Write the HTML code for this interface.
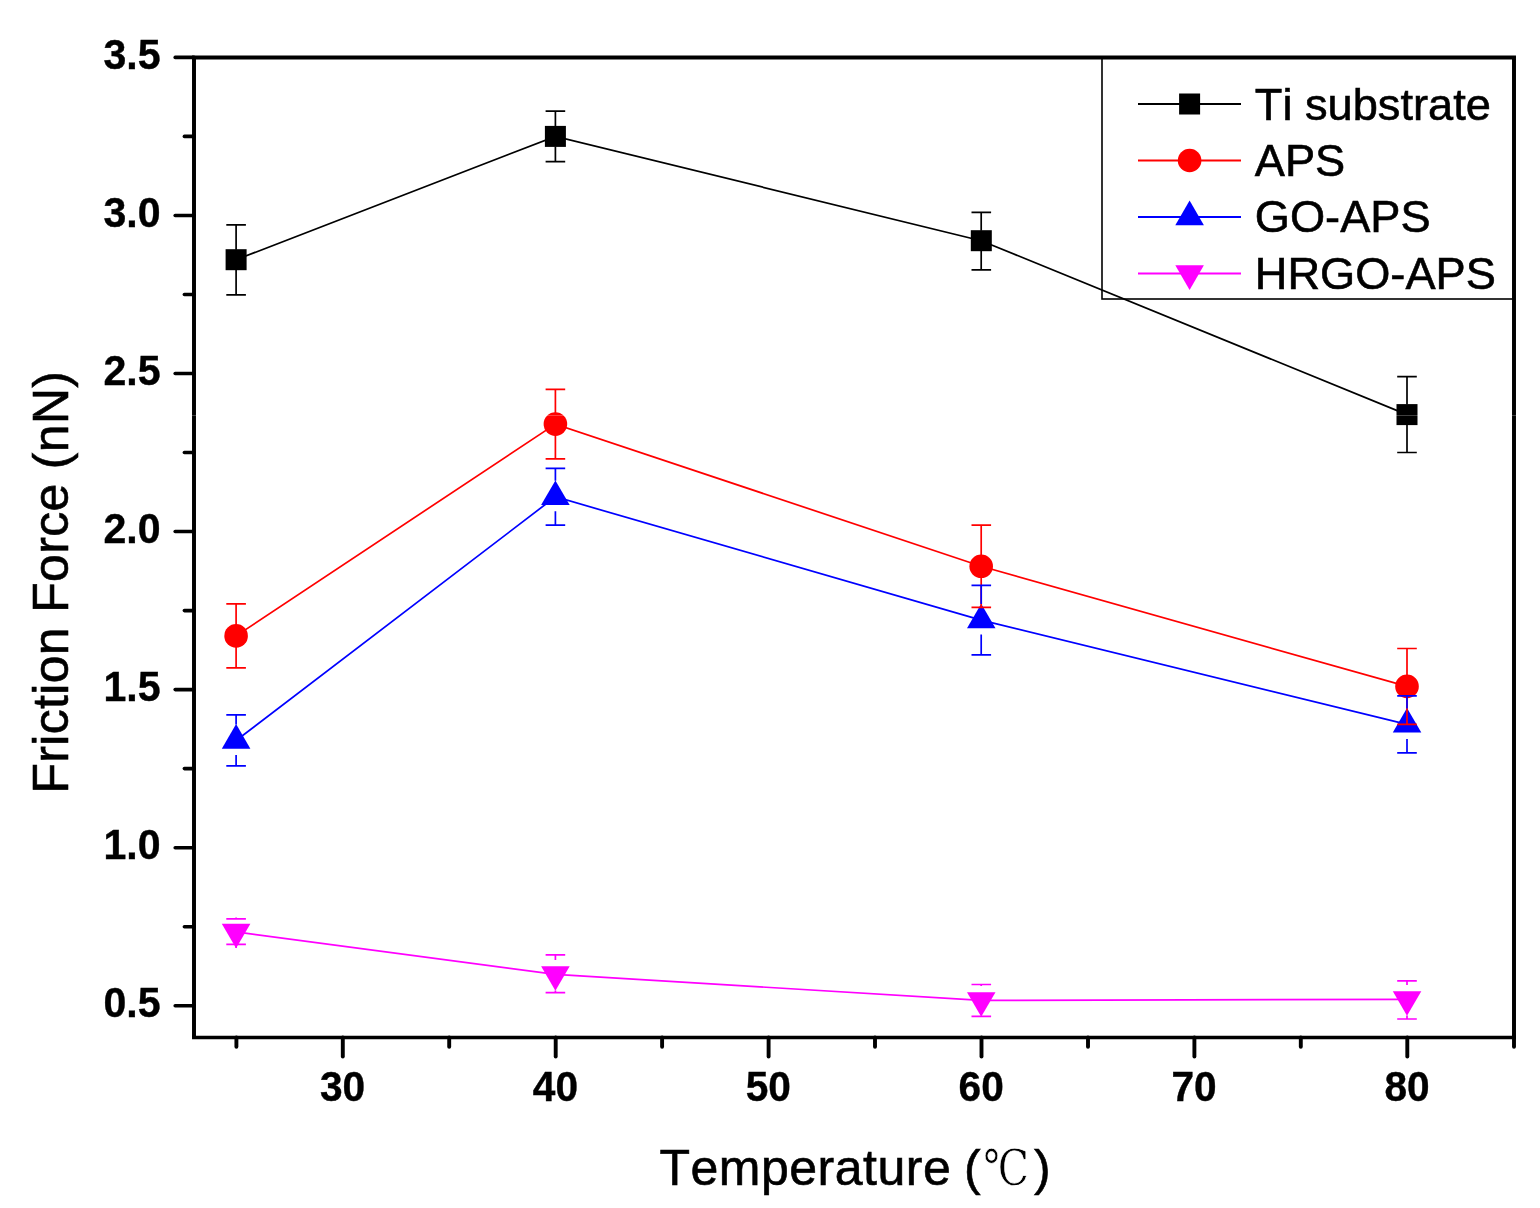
<!DOCTYPE html>
<html><head><meta charset="utf-8"><title>Friction Force vs Temperature</title>
<style>
html,body{margin:0;padding:0;background:#fff;}
body{width:1540px;height:1208px;overflow:hidden;}
svg{display:block;}
text{font-family:"Liberation Sans",Arial,sans-serif;font-kerning:none;fill:#000;stroke:#000;stroke-width:0.6px;}
.tk{font-weight:bold;font-size:43px;stroke-width:0.4px;}
.ti{font-size:50px;}
.lg{font-size:45.2px;}
.cj{font-family:"DejaVu Serif","Noto Serif CJK SC",serif;stroke:#fff;stroke-width:0.7px;}
</style></head><body>
<svg width="1540" height="1208" viewBox="0 0 1540 1208">
<rect width="1540" height="1208" fill="#fff"/>

<polyline points="236.1,259.7 555.4,136.4 981.2,240.7 1407.0,414.6" fill="none" stroke="#000000" stroke-width="1.7"/>
<rect x="225.6" y="249.2" width="21" height="21" fill="#000000"/>
<rect x="544.9" y="125.9" width="21" height="21" fill="#000000"/>
<rect x="970.8" y="230.2" width="21" height="21" fill="#000000"/>
<rect x="1396.5" y="404.1" width="21" height="21" fill="#000000"/>
<polyline points="236.1,635.9 555.4,424.1 981.2,566.3 1407.0,686.4" fill="none" stroke="#ff0000" stroke-width="1.7"/>
<circle cx="236.1" cy="635.9" r="11.8" fill="#ff0000"/>
<circle cx="555.4" cy="424.1" r="11.8" fill="#ff0000"/>
<circle cx="981.2" cy="566.3" r="11.8" fill="#ff0000"/>
<circle cx="1407.0" cy="686.4" r="11.8" fill="#ff0000"/>
<polyline points="236.1,740.5 555.4,496.8 981.2,620.1 1407.0,724.4" fill="none" stroke="#0000ff" stroke-width="1.7"/>
<polygon points="236.1,724.1 250.4,748.7 221.8,748.7" fill="#0000ff"/>
<polygon points="555.4,480.4 569.7,505.0 541.1,505.0" fill="#0000ff"/>
<polygon points="981.2,603.7 995.5,628.3 967.0,628.3" fill="#0000ff"/>
<polygon points="1407.0,708.0 1421.3,732.6 1392.8,732.6" fill="#0000ff"/>
<polyline points="236.1,931.9 555.4,974.4 981.2,1000.4 1407.0,999.4" fill="none" stroke="#ff00ff" stroke-width="1.7"/>
<polygon points="236.1,948.3 250.4,923.7 221.8,923.7" fill="#ff00ff"/>
<polygon points="555.4,990.8 569.7,966.2 541.1,966.2" fill="#ff00ff"/>
<polygon points="981.2,1016.8 995.5,992.2 967.0,992.2" fill="#ff00ff"/>
<polygon points="1407.0,1015.8 1421.3,991.2 1392.8,991.2" fill="#ff00ff"/>
<path d="M236.1 224.9V249.7M236.1 269.7V294.8M226.3 224.9h19.6M226.3 294.8h19.6M555.4 111.1V126.4M555.4 146.4V161.7M545.6 111.1h19.6M545.6 161.7h19.6M981.2 212.3V230.7M981.2 250.7V269.8M971.5 212.3h19.6M971.5 269.8h19.6M1407.0 376.7V404.6M1407.0 424.6V452.5M1397.2 376.7h19.6M1397.2 452.5h19.6" stroke="#000000" stroke-width="1.7" fill="none"/>
<path d="M236.1 603.9V624.9M236.1 646.9V667.8M226.3 603.9h19.6M226.3 667.8h19.6M555.4 389.3V413.1M555.4 435.1V458.8M545.6 389.3h19.6M545.6 458.8h19.6M981.2 525.2V555.3M981.2 577.3V607.4M971.5 525.2h19.6M971.5 607.4h19.6M1407.0 648.5V675.4M1407.0 697.4V724.4M1397.2 648.5h19.6M1397.2 724.4h19.6" stroke="#ff0000" stroke-width="1.7" fill="none"/>
<path d="M236.1 714.9V724.5M236.1 755.0V765.8M226.3 714.9h19.6M226.3 765.8h19.6M555.4 468.3V480.8M555.4 511.3V525.2M545.6 468.3h19.6M545.6 525.2h19.6M981.2 585.3V604.1M981.2 634.6V654.8M971.5 585.3h19.6M971.5 654.8h19.6M1407.0 695.9V708.4M1407.0 738.9V752.8M1397.2 695.9h19.6M1397.2 752.8h19.6" stroke="#0000ff" stroke-width="1.7" fill="none"/>
<path d="M236.1 918.8V917.4M236.1 947.9V944.4M226.3 918.8h19.6M226.3 944.4h19.6M555.4 954.8V959.9M555.4 990.4V992.7M545.6 954.8h19.6M545.6 992.7h19.6M981.2 984.5V985.9M981.2 1016.4V1016.4M971.5 984.5h19.6M971.5 1016.4h19.6M1407.0 980.9V984.9M1407.0 1015.4V1019.0M1397.2 980.9h19.6M1397.2 1019.0h19.6" stroke="#ff00ff" stroke-width="1.7" fill="none"/>
<path d="M194 1037.5V57.45H1514.0V1037.5" stroke="#000" stroke-width="3.95" fill="none" stroke-linejoin="miter"/>
<path d="M192.03 1037.5H1515.97" stroke="#000" stroke-width="3.5" fill="none"/>
<g stroke="#000" stroke-width="3.6" stroke-linecap="round">
<line x1="175.2" x2="194" y1="1005.7" y2="1005.7"/>
<line x1="175.2" x2="194" y1="847.7" y2="847.7"/>
<line x1="175.2" x2="194" y1="689.6" y2="689.6"/>
<line x1="175.2" x2="194" y1="531.5" y2="531.5"/>
<line x1="175.2" x2="194" y1="373.5" y2="373.5"/>
<line x1="175.2" x2="194" y1="215.5" y2="215.5"/>
<line x1="175.2" x2="194" y1="57.4" y2="57.4"/>
<line x1="184.4" x2="194" y1="926.7" y2="926.7"/>
<line x1="184.4" x2="194" y1="768.6" y2="768.6"/>
<line x1="184.4" x2="194" y1="610.6" y2="610.6"/>
<line x1="184.4" x2="194" y1="452.5" y2="452.5"/>
<line x1="184.4" x2="194" y1="294.5" y2="294.5"/>
<line x1="184.4" x2="194" y1="136.4" y2="136.4"/>
<line x1="342.8" x2="342.8" y1="1037.5" y2="1056.5" stroke-width="3.9"/>
<line x1="555.7" x2="555.7" y1="1037.5" y2="1056.5" stroke-width="3.9"/>
<line x1="768.6" x2="768.6" y1="1037.5" y2="1056.5" stroke-width="3.9"/>
<line x1="981.5" x2="981.5" y1="1037.5" y2="1056.5" stroke-width="3.9"/>
<line x1="1194.4" x2="1194.4" y1="1037.5" y2="1056.5" stroke-width="3.9"/>
<line x1="1407.3" x2="1407.3" y1="1037.5" y2="1056.5" stroke-width="3.9"/>
<line x1="236.4" x2="236.4" y1="1037.5" y2="1046.7" stroke-width="3.9"/>
<line x1="449.2" x2="449.2" y1="1037.5" y2="1046.7" stroke-width="3.9"/>
<line x1="662.1" x2="662.1" y1="1037.5" y2="1046.7" stroke-width="3.9"/>
<line x1="875.0" x2="875.0" y1="1037.5" y2="1046.7" stroke-width="3.9"/>
<line x1="1088.0" x2="1088.0" y1="1037.5" y2="1046.7" stroke-width="3.9"/>
<line x1="1300.8" x2="1300.8" y1="1037.5" y2="1046.7" stroke-width="3.9"/>
<line x1="1514.0" x2="1514.0" y1="1037.5" y2="1046.7" stroke-width="3.9"/>
</g>
<text class="tk" transform="translate(160.6,1017.0) scale(0.955,1)" text-anchor="end">0.5</text>
<text class="tk" transform="translate(160.6,859.0) scale(0.955,1)" text-anchor="end">1.0</text>
<text class="tk" transform="translate(160.6,700.9) scale(0.955,1)" text-anchor="end">1.5</text>
<text class="tk" transform="translate(160.6,542.8) scale(0.955,1)" text-anchor="end">2.0</text>
<text class="tk" transform="translate(160.6,384.8) scale(0.955,1)" text-anchor="end">2.5</text>
<text class="tk" transform="translate(160.6,226.8) scale(0.955,1)" text-anchor="end">3.0</text>
<text class="tk" transform="translate(160.6,68.7) scale(0.955,1)" text-anchor="end">3.5</text>
<text class="tk" transform="translate(342.5,1101.4) scale(0.945,1)" text-anchor="middle">30</text>
<text class="tk" transform="translate(555.4,1101.4) scale(0.945,1)" text-anchor="middle">40</text>
<text class="tk" transform="translate(768.3,1101.4) scale(0.945,1)" text-anchor="middle">50</text>
<text class="tk" transform="translate(981.2,1101.4) scale(0.945,1)" text-anchor="middle">60</text>
<text class="tk" transform="translate(1194.1,1101.4) scale(0.945,1)" text-anchor="middle">70</text>
<text class="tk" transform="translate(1407.0,1101.4) scale(0.945,1)" text-anchor="middle">80</text>
<text class="ti" x="659.5" y="1185"><tspan letter-spacing="0.5">Temperature </tspan><tspan x="964">(</tspan></text>
<text class="cj" transform="translate(983.2,1185.3) scale(0.83,1)" font-size="49.5">℃</text>
<text class="ti" x="1034" y="1185">)</text>
<text class="ti" letter-spacing="0.32" transform="translate(68,793.5) rotate(-90)">Friction Force (nN)</text>
<rect x="1102" y="58" width="412" height="241" fill="none" stroke="#000" stroke-width="1.6"/>
<line x1="1138" x2="1241" y1="104" y2="104" stroke="#000000" stroke-width="1.8"/>
<rect x="1179.1" y="93.5" width="21" height="21" fill="#000000"/>
<text class="lg" x="1254.8" y="120">Ti substrate</text>
<line x1="1138" x2="1241" y1="160.5" y2="160.5" stroke="#ff0000" stroke-width="1.8"/>
<circle cx="1189.6" cy="160.5" r="11.8" fill="#ff0000"/>
<text class="lg" x="1254.8" y="175.5">APS</text>
<line x1="1138" x2="1241" y1="217" y2="217" stroke="#0000ff" stroke-width="1.8"/>
<polygon points="1189.6,200.6 1203.9,225.2 1175.3,225.2" fill="#0000ff"/>
<text class="lg" x="1254.8" y="232">GO-APS</text>
<line x1="1138" x2="1241" y1="273.5" y2="273.5" stroke="#ff00ff" stroke-width="1.8"/>
<polygon points="1189.6,289.9 1203.9,265.3 1175.3,265.3" fill="#ff00ff"/>
<text class="lg" x="1254.8" y="288.5">HRGO-APS</text>
<rect x="0" y="415" width="1540" height="1" fill="#fff" opacity="0.25"/>
</svg></body></html>
